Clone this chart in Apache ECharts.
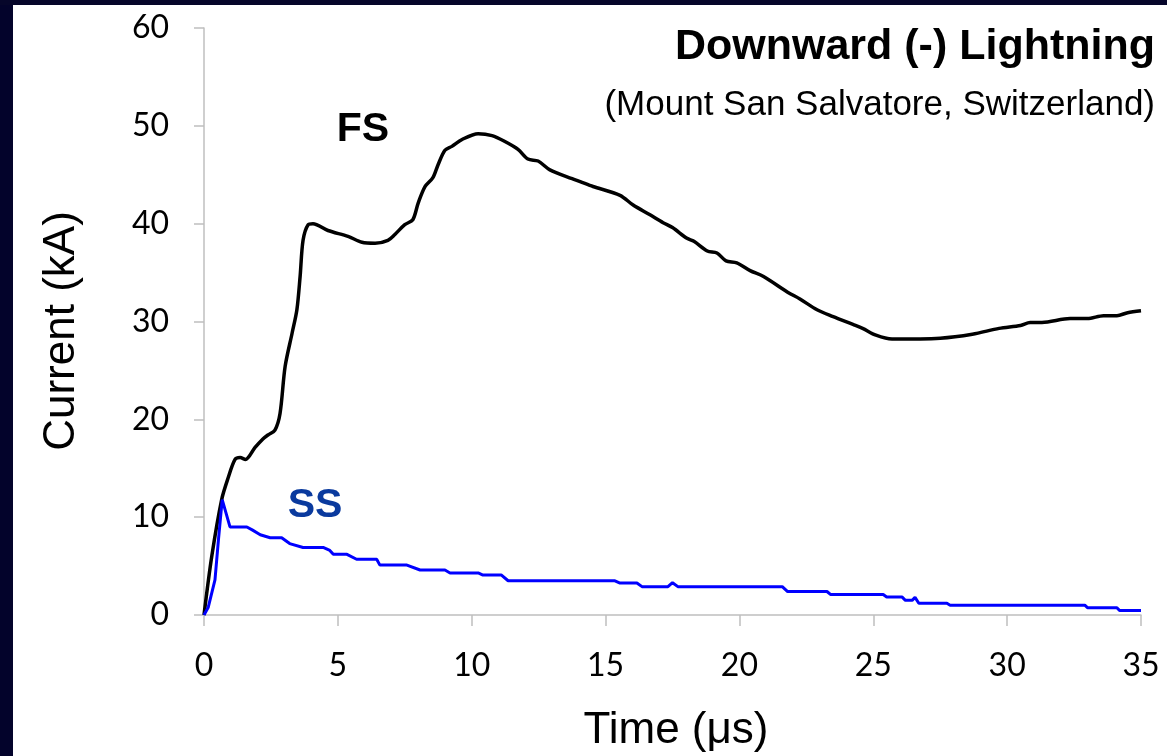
<!DOCTYPE html>
<html>
<head>
<meta charset="utf-8">
<script src="https://cdn.jsdelivr.net/npm/echarts@6/dist/echarts.min.js"></script>
<style>
html,body{margin:0;padding:0;background:#ffffff;overflow:hidden;}
#chart{width:1167px;height:756px;}
</style>
</head>
<body>
<div id="chart"></div>
<script>
// Time (µs) and current (kA) for the first stroke (FS)
var fsTime = [0,0.29,0.66,0.9,1.16,1.35,1.55,1.9,2.2,2.39,2.65,2.84,3.03,3.29,3.47,3.59,3.7,3.89,4.07,4.63,5.38,5.9,6.39,6.87,7.13,7.5,7.8,8.0,8.26,8.55,8.74,9.0,9.26,9.64,10.24,10.76,11.24,11.73,12.1,12.48,12.92,13.75,14.05,14.53,15.54,16.03,16.66,17.15,17.5,18.04,18.3,18.8,19.16,19.5,19.9,20.4,20.9,21.8,22.26,22.9,23.5,24.24,24.6,25.1,25.7,27.5,28.7,29.7,30.5,30.86,31.3,32.35,33.0,33.6,34.1,34.5,35.0];
var fsCurrent = [0,6.0,11.8,14.0,15.9,16.1,15.9,17.1,18.0,18.4,18.9,20.6,25.4,28.8,31.2,34.6,38.3,39.9,40.0,39.3,38.7,38.1,38.0,38.3,38.9,39.9,40.4,42.1,43.8,44.7,46.0,47.5,47.9,48.6,49.2,49.0,48.4,47.6,46.6,46.4,45.5,44.6,44.3,43.8,42.9,41.9,40.9,40.1,39.6,38.5,38.2,37.2,37.0,36.2,36.0,35.2,34.6,33.0,32.3,31.2,30.5,29.7,29.3,28.6,28.2,28.3,28.7,29.3,29.6,29.9,29.9,30.3,30.3,30.6,30.6,30.9,31.1];
// Time (µs) and current (kA) for the subsequent stroke (SS)
var ssTime = [0,0.16,0.22,0.41,0.54,0.68,0.74,0.97,1.6,1.8,2.1,2.47,2.9,3.2,3.7,4.45,4.7,4.83,5.34,5.7,6.45,6.57,7.58,8.07,9.0,9.19,10.24,10.4,11.1,11.36,15.35,15.54,16.17,16.36,17.33,17.5,17.7,21.6,21.8,23.27,23.4,25.37,25.5,26.07,26.2,26.45,26.56,26.7,27.75,27.87,32.9,33.0,34.1,34.2,35.0];
var ssCurrent = [0,0.8,1.0,3.6,7.7,11.8,11.6,9.0,9.0,8.7,8.2,7.9,7.9,7.3,6.9,6.9,6.6,6.2,6.2,5.7,5.7,5.1,5.1,4.6,4.6,4.3,4.3,4.1,4.1,3.5,3.5,3.27,3.27,2.9,2.9,3.3,2.9,2.9,2.4,2.4,2.1,2.1,1.85,1.85,1.5,1.5,1.8,1.2,1.2,1.0,1.0,0.75,0.75,0.45,0.45];
var xTicks = [0,5,10,15,20,25,30,35];
var yTicks = [0,10,20,30,40,50,60];

function pairs(xs, ys){ var out=[]; for(var i=0;i<xs.length;i++){ out.push([xs[i], ys[i]]); } return out; }

var chart = echarts.init(document.getElementById('chart'));
var arial = "'Liberation Sans', Arial, sans-serif";
var tickFont = "Lato, 'Open Sans', sans-serif";
var axisGray = '#bfbfbf';

chart.setOption({
  backgroundColor: '#ffffff',
  animation: false,
  grid: { left: 204, right: 26, top: 28, bottom: 141, containLabel: false },
  xAxis: {
    type: 'value', min: xTicks[0], max: xTicks[xTicks.length-1], interval: 5,
    axisLine: { show: true, lineStyle: { color: axisGray, width: 1.5 } },
    axisTick: { show: true, length: 11, lineStyle: { color: axisGray, width: 1.5 } },
    splitLine: { show: false },
    axisLabel: { margin: 35, color: '#000000', fontSize: 32, fontFamily: tickFont }
  },
  yAxis: {
    type: 'value', min: yTicks[0], max: yTicks[yTicks.length-1], interval: 10,
    axisLine: { show: true, lineStyle: { color: axisGray, width: 1.5 } },
    axisTick: { show: true, length: 10, lineStyle: { color: axisGray, width: 1.5 } },
    splitLine: { show: false },
    axisLabel: { margin: 35, color: '#000000', fontSize: 32, fontFamily: tickFont }
  },
  graphic: [
    { type: 'rect', z: 100, shape: { x: 0, y: 0, width: 13, height: 756 }, style: { fill: '#03032b' } },
    { type: 'rect', z: 100, shape: { x: 0, y: 0, width: 1167, height: 5 }, style: { fill: '#06062a' } },
    { type: 'text', x: 1155, y: 47, style: { text: 'Downward (-) Lightning', font: "bold 43px " + arial, fill: '#000000', textAlign: 'right', textVerticalAlign: 'middle' } },
    { type: 'text', x: 1155, y: 105, style: { text: '(Mount San Salvatore, Switzerland)', font: "35px " + arial, fill: '#000000', textAlign: 'right', textVerticalAlign: 'middle' } },
    { type: 'text', x: 363, y: 130, style: { text: 'FS', font: "bold 41px " + arial, fill: '#000000', textAlign: 'center', textVerticalAlign: 'middle' } },
    { type: 'text', x: 315, y: 506, style: { text: 'SS', font: "bold 41px " + arial, fill: '#0a3a9e', textAlign: 'center', textVerticalAlign: 'middle' } },
    { type: 'text', x: 62, y: 331, rotation: Math.PI/2, style: { text: 'Current (kA)', font: "44px " + arial, fill: '#000000', textAlign: 'center', textVerticalAlign: 'middle' } },
    { type: 'text', x: 676, y: 731, style: { text: 'Time (\u03bcs)', font: "44px " + arial, fill: '#000000', textAlign: 'center', textVerticalAlign: 'middle' } }
  ],
  series: [
    {
      name: 'SS', type: 'line', data: pairs(ssTime, ssCurrent), showSymbol: false, symbol: 'none',
      lineStyle: { color: '#0000ff', width: 3 }, z: 3
    },
    {
      name: 'FS', type: 'line', data: pairs(fsTime, fsCurrent), showSymbol: false, symbol: 'none',
      smooth: 0.3,
      lineStyle: { color: '#000000', width: 3.5 }, z: 2
    }
  ]
});
</script>
</body>
</html>
